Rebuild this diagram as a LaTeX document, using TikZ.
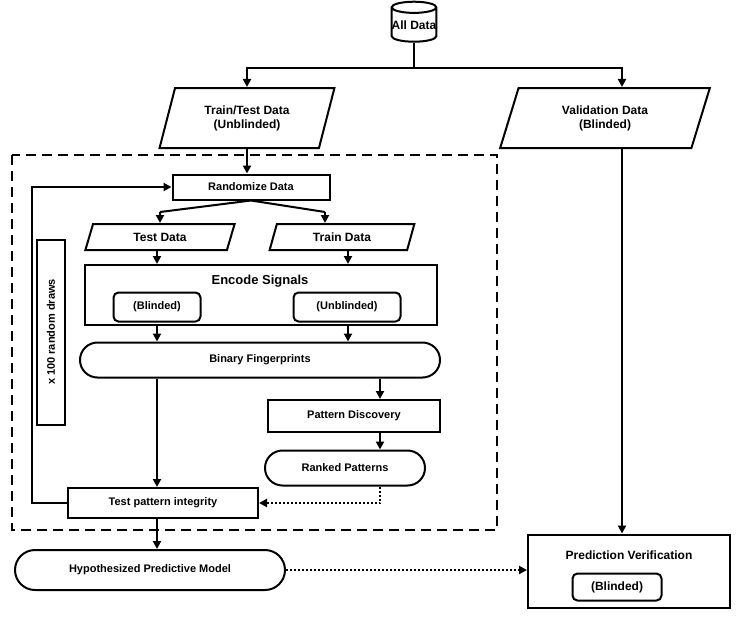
\documentclass[tikz,border=0pt]{standalone}
\usepackage{fontspec}
\setmainfont{Liberation Sans}
\usetikzlibrary{shapes.geometric,arrows.meta}
\begin{document}
\begin{tikzpicture}[x=1pt,y=-1pt,
  every node/.style={font=\bfseries\fontsize{12}{14}\selectfont, line width=2pt, draw, align=center, inner sep=0pt},
  box/.style={rectangle},
  para/.style={trapezium, trapezium left angle=70, trapezium right angle=110, trapezium stretches=true},
  stad/.style={rounded rectangle},
  rbox/.style={rounded corners=5pt},
  ln/.style={line width=2pt, -{Triangle[length=8pt,width=8pt]}},
  dt/.style={line width=2pt, dotted, -{Triangle[length=8pt,width=8pt]}},
  plain/.style={line width=2pt}]
\usetikzlibrary{shapes.misc}
\useasboundingbox (0,0) rectangle (741,619);
\node[cylinder, shape border rotate=90, aspect=0.25, minimum width=44pt, minimum height=40pt] (all) at (414,25) {All Data};
\node[para, minimum width=175pt, minimum height=60pt] (tt) at (247,118) {Train/Test Data\\(Unblinded)};
\node[para, minimum width=210pt, minimum height=60pt] (val) at (605,118) {Validation Data\\(Blinded)};
\draw[line width=2pt, dashed, dash pattern=on 10pt off 6pt] (12,155) rectangle (497,530);
\node[box, minimum width=157pt, minimum height=25pt, font=\bfseries\fontsize{11}{13}\selectfont] (ran) at (251,187) {Randomize Data};
\node[para, minimum width=150pt, minimum height=26pt] (td) at (160,237) {Test Data};
\node[para, minimum width=145pt, minimum height=26pt] (trd) at (342,237) {Train Data};
\node[box, minimum width=352pt, minimum height=60pt] (enc) at (261,295) {};
\node[draw=none, font=\bfseries\fontsize{13}{15}\selectfont] (enct) at (260,281) {Encode Signals};
\node[rbox, minimum width=87pt, minimum height=29pt, font=\bfseries\fontsize{11}{13}\selectfont] (bl) at (157,307) {(Blinded)};
\node[rbox, minimum width=107pt, minimum height=29pt, font=\bfseries\fontsize{11}{13}\selectfont] (ubl) at (347,307) {(Unblinded)};
\node[stad, minimum width=360pt, minimum height=35pt, font=\bfseries\fontsize{11}{13}\selectfont] (bf) at (260,360) {Binary Fingerprints};
\node[box, minimum width=172pt, minimum height=32pt, font=\bfseries\fontsize{11}{13}\selectfont] (pd) at (354,416) {Pattern Discovery};
\node[stad, minimum width=160pt, minimum height=35pt, font=\bfseries\fontsize{11}{13}\selectfont] (rp) at (345,468) {Ranked Patterns};
\node[box, minimum width=190pt, minimum height=30pt, font=\bfseries\fontsize{11}{13}\selectfont] (tp) at (163,503) {Test pattern integrity};
\node[box, minimum width=28pt, minimum height=185pt] (x100) at (51,332) {};
\node[draw=none, rotate=90, font=\bfseries\fontsize{11}{13}\selectfont] (x100t) at (51,332) {x 100 random draws};
\node[stad, minimum width=270pt, minimum height=40pt, font=\bfseries\fontsize{11}{13}\selectfont] (hyp) at (150,570) {Hypothesized Predictive Model};
\node[box, minimum width=202pt, minimum height=73pt] (pv) at (629,571) {};
\node[draw=none] (pvt) at (629,555) {Prediction Verification};
\node[rbox, minimum width=89pt, minimum height=27pt] (pvb) at (617,587) {(Blinded)};
\coordinate (j) at (414,68);
\draw[plain] (all.south) -- (j);
\draw[ln] (j) -| (tt.north);
\draw[ln] (j) -| (val.north -| 622,0);
\draw[ln] (tt.south) -- (ran.north -| tt.south);
\draw[plain] (ran.south) -- (160,212);
\draw[ln] (160,212) -- (td.north);
\draw[plain] (ran.south) -- (325,212);
\draw[ln] (325,212) -- (trd.north -| 325,0);
\draw[ln] (td.south -| 157,0) -- (enc.north -| 157,0);
\draw[ln] (trd.south -| 348,0) -- (enc.north -| 348,0);
\draw[ln] (enc.south -| 157,0) -- (bf.north -| 157,0);
\draw[ln] (enc.south -| 348,0) -- (bf.north -| 348,0);
\draw[ln] (bf.south -| 380,0) -- (pd.north -| 380,0);
\draw[ln] (pd.south -| 380,0) -- (rp.north -| 380,0);
\draw[ln] (bf.south -| 157,0) -- (tp.north -| 157,0);
\draw[dt] (rp.south -| 380,0) |- (tp.east);
\draw[ln] (tp.west) -| (32,187) -- (ran.west);
\draw[ln] (tp.south -| 157,0) -- (hyp.north -| 157,0);
\draw[dt] (hyp.east) -- (pv.west |- hyp.east);
\draw[ln] (val.south -| 622,0) -- (pv.north -| 622,0);
\end{tikzpicture}
\end{document}
